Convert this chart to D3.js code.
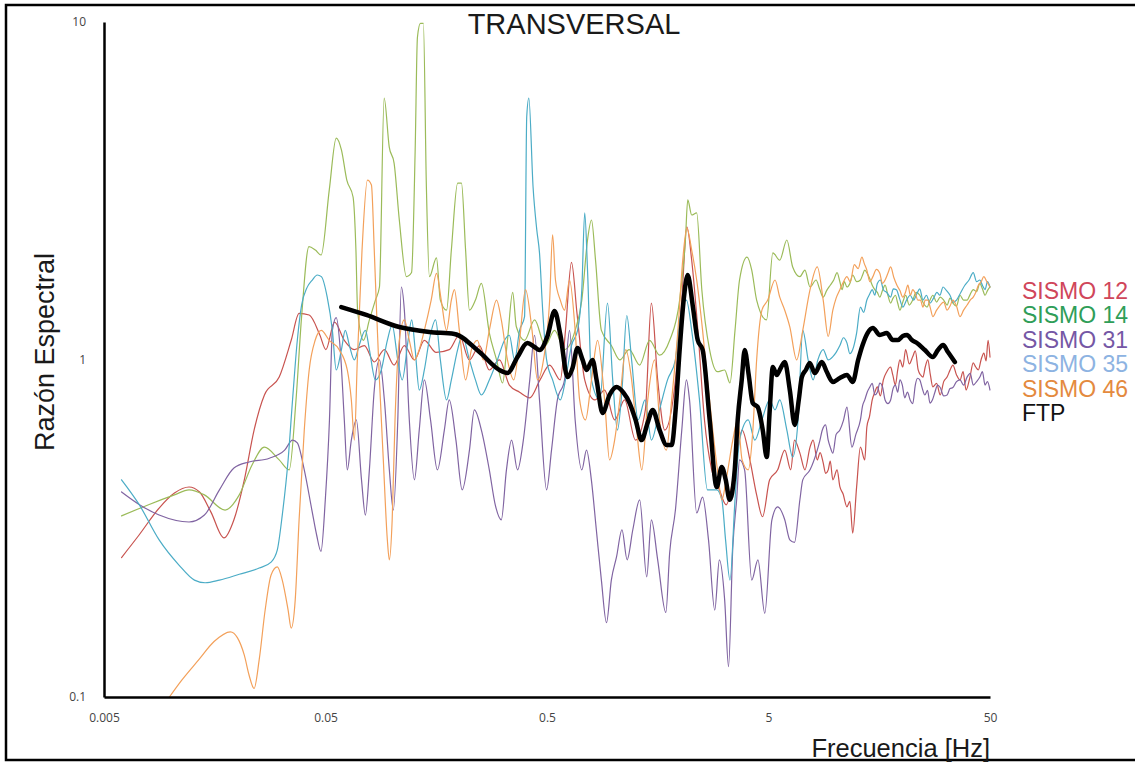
<!DOCTYPE html>
<html>
<head>
<meta charset="utf-8">
<script src="https://cdn.jsdelivr.net/npm/d3@7"></script>
<style>
  html, body { margin: 0; padding: 0; background: #fff; }
  svg { display: block; }
</style>
</head>
<body>
<script>
// Spectral ratio (transverse component) for five earthquakes and the FTP curve.
// Each series: [frequency Hz, spectral ratio]
const sismo12 = [[0.006,0.259],[0.0072,0.302],[0.00887,0.363],[0.0104,0.402],[0.0121,0.419],[0.0135,0.405],[0.0152,0.353],[0.0174,0.296],[0.0193,0.335],[0.0215,0.44],[0.0238,0.618],[0.0265,0.785],[0.0309,0.887],[0.035,1.14],[0.038,1.37],[0.0422,1.355],[0.0472,1.18],[0.0502,1.07],[0.0549,1.29],[0.0608,1.14],[0.0675,1.07],[0.0749,1.10],[0.083,0.983],[0.0922,1.07],[0.102,0.963],[0.1135,1.10],[0.126,0.997],[0.1397,1.14],[0.158,1.05],[0.181,1.07],[0.201,1.18],[0.223,0.997],[0.2478,1.10],[0.2745,0.931],[0.305,0.997],[0.338,0.84],[0.376,0.8],[0.418,0.77],[0.465,0.87],[0.514,0.963],[0.574,0.87],[0.606,1.22],[0.645,1.94],[0.683,1.37],[0.74,0.87],[0.822,0.759],[0.91,0.812],[1.01,0.662],[1.12,0.759],[1.255,0.577],[1.39,0.709],[1.48,1.47],[1.58,0.87],[1.70,0.618],[1.9,0.87],[2.03,1.5],[2.14,2.47],[2.25,1.97],[2.4,1.22],[2.57,0.662],[2.77,0.471],[3.0,0.411],[3.22,0.371],[3.52,0.471],[3.8,0.618],[4.12,0.504],[4.42,0.397],[4.7,0.342],[5.06,0.44],[5.5,0.471],[5.92,0.539],[6.3,0.471],[6.55,0.577],[6.93,0.528],[7.3,0.471],[7.7,0.55],[7.95,0.577],[8.3,0.504],[8.55,0.53],[8.83,0.494],[9.05,0.46],[9.3,0.471],[9.5,0.50],[9.76,0.44],[10.2,0.471],[10.5,0.42],[10.85,0.40],[11.3,0.366],[11.65,0.38],[12.0,0.306],[12.5,0.42],[13.0,0.55],[13.6,0.504],[13.9,0.631],[14.3,0.68],[14.7,0.759],[15.1,0.80],[15.5,0.83],[16.0,0.78],[16.5,0.87],[17.1,0.92],[17.8,0.95],[18.2,0.90],[18.7,0.84],[19.15,0.93],[19.6,0.997],[20.2,0.95],[20.8,1.07],[21.6,0.97],[22.4,1.02],[23.0,1.06],[23.7,0.931],[24.3,0.90],[24.9,0.887],[25.5,0.95],[26.2,0.997],[26.9,0.90],[27.6,0.83],[28.7,0.85],[29.8,0.785],[30.9,0.86],[32.0,0.887],[33.0,0.93],[34.0,0.963],[35.3,0.90],[36.6,0.87],[37.8,0.92],[39.0,0.812],[40.5,0.88],[42.0,0.977],[43.1,0.95],[44.3,0.931],[45.6,1.00],[46.9,1.045],[48.0,0.99],[49.0,1.14],[50,1.017]];

const sismo14 = [[0.006,0.344],[0.008,0.372],[0.0104,0.397],[0.0121,0.411],[0.0142,0.397],[0.0176,0.358],[0.0204,0.397],[0.0233,0.487],[0.0265,0.55],[0.0309,0.504],[0.0343,0.471],[0.0368,0.759],[0.039,1.34],[0.0421,2.16],[0.045,2.11],[0.0478,2.04],[0.052,3.18],[0.0559,4.53],[0.059,4.18],[0.0624,3.40],[0.0666,3.03],[0.0686,2.11],[0.0698,1.40],[0.0742,1.14],[0.0789,1.31],[0.084,1.5],[0.0876,1.64],[0.092,5.95],[0.097,4.26],[0.102,3.82],[0.1077,2.59],[0.116,1.76],[0.1223,1.81],[0.127,4.18],[0.13,9.0],[0.1341,9.9],[0.1383,9.9],[0.1427,3.25],[0.1473,1.76],[0.1585,2.0],[0.165,1.5],[0.176,1.4],[0.185,2.11],[0.1975,3.33],[0.2055,3.33],[0.2145,2.11],[0.2233,1.4],[0.2376,1.5],[0.2528,1.68],[0.2745,1.2],[0.296,0.997],[0.315,0.852],[0.3315,1.14],[0.35,1.58],[0.3635,1.25],[0.396,1.14],[0.4395,1.31],[0.4905,1.10],[0.541,1.22],[0.6,1.07],[0.67,1.22],[0.718,1.5],[0.762,2.26],[0.794,2.59],[0.828,1.97],[0.88,1.22],[0.976,1.10],[1.066,0.997],[1.175,1.07],[1.31,0.963],[1.453,1.14],[1.612,1.03],[1.79,1.14],[1.985,1.5],[2.108,2.26],[2.16,2.97],[2.25,2.68],[2.37,2.72],[2.5,1.61],[2.71,1.07],[2.94,0.92],[3.17,0.931],[3.35,0.852],[3.53,1.22],[3.7,1.72],[4.0,2.01],[4.2,1.84],[4.42,1.5],[4.9,1.31],[5.23,2.07],[5.62,1.97],[6.05,2.26],[6.43,1.88],[6.93,1.76],[7.3,1.84],[7.7,1.64],[8.2,1.72],[8.5,1.62],[8.83,1.53],[9.15,1.60],[9.5,1.66],[9.85,1.72],[10.2,1.81],[10.5,1.70],[10.75,1.61],[11.0,1.70],[11.3,1.64],[11.65,1.68],[12.0,1.78],[12.5,1.70],[13.0,1.72],[13.3,1.78],[13.6,1.84],[13.95,1.80],[14.3,1.74],[14.7,1.66],[15.1,1.61],[15.5,1.58],[15.9,1.53],[16.35,1.60],[16.8,1.66],[17.3,1.55],[17.8,1.47],[18.25,1.52],[18.7,1.55],[19.15,1.47],[19.6,1.40],[20.2,1.48],[20.8,1.55],[21.6,1.45],[22.4,1.5],[23.2,1.58],[24.1,1.55],[25.0,1.47],[26.0,1.43],[26.8,1.50],[27.6,1.55],[28.7,1.48],[29.8,1.53],[30.9,1.50],[32.0,1.45],[33.0,1.52],[34.0,1.47],[35.3,1.44],[36.6,1.55],[38.0,1.50],[39.4,1.5],[40.7,1.56],[42.0,1.61],[43.5,1.59],[45.0,1.68],[46.2,1.62],[47.5,1.55],[48.7,1.60],[50,1.64]];

const sismo31 = [[0.006,0.405],[0.0072,0.372],[0.00887,0.346],[0.0121,0.33],[0.0142,0.346],[0.0166,0.411],[0.0193,0.477],[0.0226,0.497],[0.0279,0.51],[0.0327,0.539],[0.0355,0.577],[0.0373,0.566],[0.0401,0.471],[0.0434,0.358],[0.0456,0.302],[0.0477,0.27],[0.0499,0.384],[0.0521,0.662],[0.0537,1.22],[0.0559,1.33],[0.0583,1.07],[0.0608,0.662],[0.0627,0.471],[0.0654,0.577],[0.0689,0.662],[0.0727,0.44],[0.0757,0.346],[0.0789,0.471],[0.083,0.812],[0.0876,0.997],[0.0922,0.759],[0.0971,0.471],[0.1012,0.358],[0.106,0.662],[0.110,1.64],[0.1135,1.40],[0.1195,0.662],[0.126,0.44],[0.1325,0.618],[0.1397,0.87],[0.149,0.662],[0.16,0.471],[0.172,0.618],[0.181,0.759],[0.194,0.577],[0.207,0.411],[0.2233,0.539],[0.235,0.709],[0.2528,0.618],[0.2745,0.471],[0.292,0.371],[0.311,0.335],[0.328,0.471],[0.346,0.577],[0.368,0.471],[0.391,0.577],[0.418,0.87],[0.4395,1.18],[0.4625,0.759],[0.498,0.411],[0.524,0.539],[0.557,0.759],[0.6,0.87],[0.632,1.22],[0.67,0.662],[0.718,0.471],[0.754,0.539],[0.793,0.44],[0.835,0.313],[0.88,0.222],[0.928,0.166],[0.976,0.222],[1.03,0.26],[1.09,0.313],[1.15,0.255],[1.22,0.313],[1.31,0.384],[1.41,0.227],[1.48,0.335],[1.58,0.255],[1.72,0.178],[1.79,0.268],[1.9,0.358],[2.03,0.618],[2.13,0.87],[2.2,0.759],[2.37,0.351],[2.52,0.391],[2.68,0.292],[2.86,0.181],[3.0,0.255],[3.17,0.194],[3.3,0.123],[3.45,0.278],[3.59,0.384],[3.7,0.504],[3.9,0.471],[4.2,0.222],[4.48,0.255],[4.81,0.177],[5.18,0.335],[5.5,0.366],[5.92,0.335],[6.24,0.292],[6.55,0.287],[6.93,0.384],[7.14,0.44],[7.7,0.471],[8.3,0.539],[8.5,0.57],[8.75,0.618],[9.05,0.64],[9.3,0.577],[9.5,0.55],[9.76,0.528],[10.1,0.60],[10.5,0.618],[10.9,0.66],[11.3,0.723],[11.9,0.55],[12.4,0.60],[13.0,0.662],[13.3,0.73],[13.6,0.759],[13.95,0.80],[14.3,0.826],[14.7,0.85],[15.1,0.785],[15.5,0.80],[15.9,0.852],[16.35,0.83],[16.8,0.759],[17.3,0.74],[17.8,0.759],[18.25,0.82],[18.7,0.84],[19.15,0.80],[19.6,0.87],[20.1,0.84],[20.6,0.77],[21.2,0.80],[21.8,0.759],[22.4,0.74],[23.0,0.84],[23.55,0.88],[24.1,0.87],[24.75,0.82],[25.4,0.785],[26.1,0.81],[26.8,0.743],[27.5,0.76],[28.2,0.8],[29.0,0.84],[29.8,0.826],[30.9,0.78],[32.0,0.785],[33.0,0.82],[34.0,0.826],[35.3,0.86],[36.6,0.87],[38.0,0.84],[39.4,0.887],[40.7,0.91],[42.0,0.84],[43.5,0.86],[45.0,0.887],[46.2,0.92],[47.5,0.84],[48.7,0.86],[50,0.812]];

const sismo35 = [[0.006,0.44],[0.0072,0.372],[0.00887,0.292],[0.0109,0.246],[0.0128,0.222],[0.0143,0.218],[0.0166,0.222],[0.0204,0.231],[0.0251,0.241],[0.0284,0.251],[0.0303,0.273],[0.0319,0.346],[0.0339,0.504],[0.0355,0.759],[0.0373,1.14],[0.039,1.45],[0.0412,1.63],[0.0436,1.72],[0.0459,1.78],[0.0479,1.76],[0.0509,1.53],[0.0537,1.22],[0.0559,0.931],[0.059,1.07],[0.0614,1.22],[0.0641,1.10],[0.0675,0.997],[0.0709,1.10],[0.0757,1.22],[0.0789,1.07],[0.084,0.87],[0.0893,0.931],[0.0951,1.14],[0.1,1.265],[0.106,0.997],[0.111,0.87],[0.118,1.14],[0.1225,1.31],[0.127,1.07],[0.1325,0.812],[0.1397,0.931],[0.147,1.14],[0.157,1.31],[0.165,0.997],[0.176,0.759],[0.185,0.87],[0.1975,1.07],[0.207,1.18],[0.2233,0.997],[0.2376,0.87],[0.2528,0.785],[0.2745,0.87],[0.2985,0.997],[0.3215,1.14],[0.338,1.18],[0.357,0.997],[0.376,1.22],[0.396,1.34],[0.405,5.24],[0.414,5.95],[0.4325,3.25],[0.4497,2.42],[0.4625,2.07],[0.478,1.40],[0.498,0.997],[0.53,0.87],[0.574,0.759],[0.606,0.87],[0.645,1.10],[0.687,1.22],[0.718,1.61],[0.74,2.72],[0.762,1.84],[0.794,0.87],[0.866,0.759],[0.938,1.47],[0.99,0.87],[1.04,0.618],[1.09,0.812],[1.146,1.35],[1.205,0.997],[1.29,0.662],[1.385,0.759],[1.48,0.577],[1.61,0.709],[1.75,0.87],[1.9,0.997],[1.985,1.31],[2.13,1.5],[2.25,1.22],[2.44,0.759],[2.65,0.411],[2.92,0.411],[3.08,0.384],[3.2,0.292],[3.35,0.222],[3.53,0.384],[3.7,0.577],[4.05,0.662],[4.34,0.577],[4.67,0.662],[5.06,0.759],[5.35,0.709],[5.62,0.759],[6.05,0.618],[6.43,0.514],[6.8,0.662],[7.14,1.22],[7.55,0.997],[7.95,0.87],[8.35,0.997],[8.83,1.07],[9.3,0.997],[9.76,1.02],[10.1,1.05],[10.5,1.10],[10.9,1.16],[11.3,1.12],[11.65,1.04],[12.0,1.07],[12.5,1.20],[13.0,1.43],[13.45,1.38],[13.9,1.5],[14.3,1.56],[14.7,1.61],[15.1,1.55],[15.5,1.68],[16.0,1.72],[16.5,1.61],[17.1,1.58],[17.8,1.53],[18.3,1.62],[18.9,1.61],[19.5,1.52],[20.2,1.43],[21.0,1.50],[21.8,1.55],[22.6,1.50],[23.4,1.57],[24.1,1.62],[24.9,1.5],[25.8,1.55],[26.8,1.47],[27.8,1.52],[28.8,1.58],[29.7,1.55],[30.7,1.64],[31.8,1.60],[33.0,1.55],[34.1,1.48],[35.3,1.5],[36.9,1.58],[38.5,1.66],[40.2,1.72],[42.0,1.81],[43.5,1.70],[45.0,1.72],[46.2,1.66],[47.5,1.61],[48.7,1.70],[50,1.64]];

const sismo46 = [[0.00987,0.1],[0.0112,0.112],[0.0134,0.129],[0.0157,0.146],[0.0186,0.156],[0.02,0.15],[0.0215,0.133],[0.0226,0.116],[0.0238,0.106],[0.0251,0.129],[0.0267,0.181],[0.0284,0.23],[0.0303,0.243],[0.0319,0.222],[0.0339,0.181],[0.035,0.16],[0.0365,0.194],[0.038,0.335],[0.0401,0.618],[0.0422,0.931],[0.0449,1.14],[0.0478,1.22],[0.052,1.14],[0.0576,1.07],[0.0627,0.931],[0.0654,0.759],[0.0675,0.577],[0.0696,0.997],[0.0731,2.11],[0.0773,3.40],[0.0806,3.29],[0.083,2.11],[0.085,1.40],[0.0876,0.87],[0.0912,0.504],[0.0951,0.292],[0.0971,0.255],[0.1,0.335],[0.103,0.662],[0.1077,1.14],[0.1135,1.31],[0.1195,1.14],[0.126,0.997],[0.1325,1.07],[0.1397,1.22],[0.150,1.5],[0.1585,1.80],[0.1665,1.5],[0.176,1.22],[0.185,1.5],[0.191,1.61],[0.201,1.22],[0.2145,0.87],[0.228,1.07],[0.2425,1.14],[0.258,0.997],[0.2745,1.22],[0.296,1.5],[0.311,1.31],[0.3315,0.997],[0.354,0.87],[0.376,1.14],[0.4,1.61],[0.428,1.22],[0.453,0.87],[0.482,0.997],[0.514,1.5],[0.53,2.34],[0.546,1.72],[0.574,1.5],[0.6,1.40],[0.632,1.72],[0.67,1.22],[0.702,0.759],[0.746,0.662],[0.794,0.87],[0.846,1.14],[0.91,0.759],[0.958,0.504],[1.01,0.577],[1.066,0.759],[1.134,1.07],[1.205,0.87],[1.27,0.618],[1.34,0.471],[1.425,0.759],[1.53,0.997],[1.612,0.662],[1.73,0.539],[1.827,0.759],[1.95,1.22],[2.05,1.97],[2.14,2.45],[2.25,2.11],[2.37,1.72],[2.52,1.22],[2.65,0.87],[2.8,0.618],[2.94,0.471],[3.08,0.384],[3.22,0.44],[3.45,0.577],[3.63,0.662],[3.8,0.504],[4.05,0.471],[4.25,0.618],[4.42,0.997],[4.67,1.40],[4.96,1.5],[5.35,1.72],[5.62,1.53],[5.92,1.40],[6.24,1.25],[6.7,0.997],[7.14,1.22],[7.7,1.61],[8.3,1.88],[8.83,1.5],[9.3,1.17],[9.76,1.40],[10.1,1.52],[10.5,1.61],[10.9,1.70],[11.3,1.76],[11.7,1.70],[12.2,1.91],[12.7,1.86],[13.2,2.01],[13.55,1.92],[13.9,1.84],[14.35,1.70],[14.8,1.76],[15.35,1.85],[15.9,1.8],[16.35,1.68],[16.8,1.72],[17.3,1.80],[17.8,1.88],[18.4,1.75],[19.0,1.66],[19.6,1.60],[20.2,1.53],[20.75,1.58],[21.3,1.66],[21.85,1.55],[22.4,1.61],[23.0,1.57],[23.6,1.5],[24.25,1.50],[24.9,1.43],[25.5,1.50],[26.2,1.5],[26.9,1.42],[27.6,1.34],[28.7,1.40],[29.8,1.45],[30.9,1.48],[32.0,1.40],[33.0,1.44],[34.0,1.5],[35.3,1.44],[36.6,1.34],[38.0,1.40],[39.4,1.45],[40.7,1.50],[42.0,1.53],[43.1,1.58],[44.3,1.66],[45.6,1.70],[46.9,1.76],[48.4,1.70],[50,1.64]];

const ftp = [[0.0589,1.43],[0.0764,1.355],[0.1077,1.248],[0.1471,1.206],[0.1909,1.19],[0.2477,1.052],[0.305,0.931],[0.3315,0.912],[0.368,1.017],[0.408,1.119],[0.439,1.089],[0.4625,1.067],[0.5027,1.174],[0.541,1.392],[0.575,1.18],[0.619,0.887],[0.652,0.944],[0.687,1.082],[0.724,0.997],[0.754,0.931],[0.803,0.997],[0.837,0.87],[0.891,0.694],[0.958,0.785],[1.031,0.829],[1.109,0.796],[1.18,0.743],[1.256,0.662],[1.337,0.577],[1.423,0.649],[1.5,0.709],[1.612,0.618],[1.734,0.558],[1.827,0.558],[1.904,0.709],[1.985,1.067],[2.07,1.501],[2.158,1.78],[2.273,1.45],[2.395,1.142],[2.522,1.067],[2.713,0.662],[2.918,0.419],[3.074,0.48],[3.205,0.44],[3.34,0.384],[3.52,0.471],[3.63,0.662],[3.785,0.87],[3.905,1.067],[4.07,0.9],[4.245,0.743],[4.47,0.723],[4.71,0.618],[4.91,0.514],[5.065,0.709],[5.23,0.95],[5.45,0.9],[5.62,0.931],[5.92,0.983],[6.24,0.812],[6.57,0.64],[6.85,0.759],[7.07,0.887],[7.37,0.931],[7.68,0.977],[8.09,0.912],[8.7,0.983],[9.17,0.918],[9.76,0.858],[10.5,0.882],[11.3,0.9],[12.0,0.858],[12.7,0.997],[13.3,1.104],[14.0,1.198],[14.8,1.24],[15.9,1.182],[17.1,1.198],[18.2,1.142],[19.2,1.142],[20.2,1.174],[21.1,1.182],[22.2,1.142],[23.4,1.119],[25.4,1.067],[27.6,1.017],[29.1,1.067],[30.7,1.104],[32.3,1.052],[34.7,0.983]];

const seriesNames = ["SISMO 12", "SISMO 14", "SISMO 31", "SISMO 35", "SISMO 46", "FTP"];
const seriesData = [sismo12, sismo14, sismo31, sismo35, sismo46, ftp];
const xTickValues = [0.005, 0.05, 0.5, 5, 50];
const xTickLabels = ["0.005", "0.05", "0.5", "5", "50"];
const yTickValues = [0.1, 1, 10];
const yTickLabels = ["0.1", "1", "10"];

// drawing styles
const lineColors = ["#c8534f", "#9bbb59", "#8064a2", "#4bacc6", "#f3a05a", "#000000"];
const legendColors = ["#d0465a", "#2f9e58", "#7557a5", "#8db3e2", "#e48a3e", "#111111"];
const lineWidths = [1.2, 1.2, 1.2, 1.2, 1.2, 4.5];

const W = 1135, H = 764;
const svg = d3.select("body").append("svg")
  .attr("width", W).attr("height", H)
  .style("font-family", "'Liberation Sans', Arial, sans-serif");

svg.append("rect").attr("width", W).attr("height", H).attr("fill", "#fff");

// outer frame
svg.append("rect")
  .attr("x", 6).attr("y", 5).attr("width", 1140).attr("height", 755)
  .attr("fill", "none").attr("stroke", "#000").attr("stroke-width", 2.5);

const x = d3.scaleLog().domain([0.005, 50]).range([104, 990]);
const y = d3.scaleLog().domain([0.1, 10]).range([697, 22]);

const line = d3.line()
  .x(d => x(d[0]))
  .y(d => y(d[1]))
  .curve(d3.curveMonotoneX);

const plot = svg.append("g");
seriesData.forEach((data, i) => {
  plot.append("path")
    .datum(data)
    .attr("fill", "none")
    .attr("stroke", lineColors[i])
    .attr("stroke-width", lineWidths[i])
    .attr("stroke-linejoin", "round")
    .attr("stroke-linecap", "round")
    .attr("d", line);
});

// axes
const xAxis = d3.axisBottom(x)
  .tickValues(xTickValues)
  .tickFormat((d, i) => xTickLabels[i])
  .tickSize(0).tickPadding(16);
const gx = svg.append("g").attr("transform", "translate(0,697)").call(xAxis);
gx.select(".domain").attr("stroke", "#000").attr("stroke-width", 2.5);
gx.selectAll("text").attr("font-size", 12).attr("fill", "#444")
  .style("font-family", "'Open Sans', sans-serif");

const yAxis = d3.axisLeft(y)
  .tickValues(yTickValues)
  .tickFormat((d, i) => yTickLabels[i])
  .tickSize(0).tickPadding(18);
const gy = svg.append("g").attr("transform", "translate(104,0)").call(yAxis);
gy.select(".domain").attr("stroke", "#000").attr("stroke-width", 2.5);
gy.selectAll("text").attr("font-size", 12).attr("fill", "#444")
  .style("font-family", "'Open Sans', sans-serif");

// titles
svg.append("text")
  .attr("x", 574).attr("y", 34)
  .attr("text-anchor", "middle")
  .attr("font-size", 29).attr("fill", "#1a1a1a")
  .text("TRANSVERSAL");

svg.append("text")
  .attr("transform", "translate(54,352) rotate(-90)")
  .attr("text-anchor", "middle")
  .attr("font-size", 27).attr("fill", "#1a1a1a")
  .text("Razón Espectral");

svg.append("text")
  .attr("x", 990).attr("y", 757)
  .attr("text-anchor", "end")
  .attr("font-size", 25.5).attr("fill", "#1a1a1a")
  .text("Frecuencia [Hz]");

// legend
const legend = svg.append("g").attr("transform", "translate(1022,0)");
seriesNames.forEach((name, i) => {
  legend.append("text")
    .attr("x", 0).attr("y", 299 + i * 24.4)
    .attr("font-size", 23)
    .attr("fill", legendColors[i])
    .text(name);
});
</script>
</body>
</html>
